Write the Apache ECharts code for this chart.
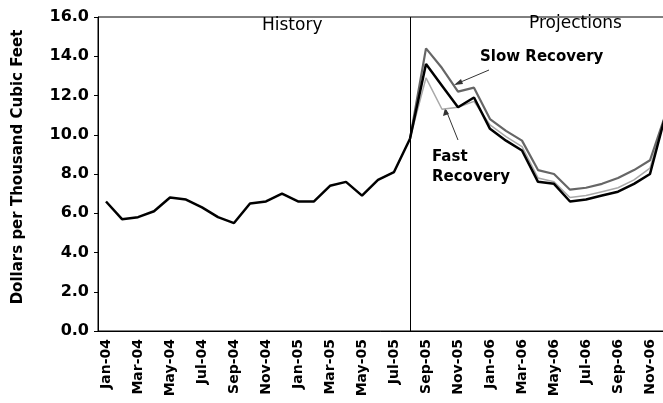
<!DOCTYPE html>
<html>
<head>
<meta charset="utf-8">
<script src="https://cdn.jsdelivr.net/npm/echarts@6/dist/echarts.min.js"></script>
<style>
  html, body { margin: 0; padding: 0; background: #fff; }
  #chart { width: 663px; height: 403px; }
</style>
</head>
<body>
<div id="chart"></div>
<script>
// months Jan-04 .. Dec-06
const months = [
  "Jan-04","Feb-04","Mar-04","Apr-04","May-04","Jun-04","Jul-04","Aug-04","Sep-04","Oct-04","Nov-04","Dec-04",
  "Jan-05","Feb-05","Mar-05","Apr-05","May-05","Jun-05","Jul-05","Aug-05","Sep-05","Oct-05","Nov-05","Dec-05",
  "Jan-06","Feb-06","Mar-06","Apr-06","May-06","Jun-06","Jul-06","Aug-06","Sep-06","Oct-06","Nov-06","Dec-06"
];

// Jan-04 .. Aug-05
const history = [6.6, 5.7, 5.8, 6.1, 6.8, 6.7, 6.3, 5.8, 5.5, 6.5, 6.6, 7.0,
                 6.6, 6.6, 7.4, 7.6, 6.9, 7.7, 8.1, 9.8];

// Sep-05 .. Dec-06
const baseCase = [13.6, 12.5, 11.4, 11.9, 10.3, 9.7, 9.2, 7.6, 7.5, 6.6, 6.7, 6.9, 7.1, 7.5, 8.0, 11.1];
const slowRecovery = [14.4, 13.4, 12.2, 12.4, 10.8, 10.2, 9.7, 8.2, 8.0, 7.2, 7.3, 7.5, 7.8, 8.2, 8.7, 11.1];
const fastRecovery = [12.9, 11.3, 11.4, 11.7, 10.5, 9.9, 9.4, 7.8, 7.6, 6.8, 6.9, 7.1, 7.3, 7.7, 8.3, 11.1];

const yTicks = [0, 16, 2]; // min, max, interval

const lastHist = history.length - 1;
const histData = months.map((m, i) => i < history.length ? history[i] : null);
const projData = (arr) => months.map((m, i) => {
  if (i < lastHist) return null;
  if (i === lastHist) return history[lastHist];
  return arr[i - lastHist - 1];
});

const wide = "DejaVu Sans, Verdana, sans-serif";
const myChart = echarts.init(document.getElementById("chart"));

myChart.setOption({
  animation: false,
  grid: {
    left: 98, top: 17, width: 576, height: 314,
    show: true, borderColor: "#000", borderWidth: 1,
    outerBoundsMode: "none"
  },
  xAxis: {
    type: "category",
    data: months,
    boundaryGap: true,
    axisLine: { lineStyle: { color: "#000", width: 1 } },
    axisTick: { interval: 1, length: 4, lineStyle: { color: "#000" } },
    axisLabel: {
      interval: 1, rotate: 90, margin: 8,
      color: "#000", fontFamily: wide, fontWeight: "bold", fontSize: 14
    },
    splitLine: { show: false }
  },
  yAxis: {
    type: "value",
    min: yTicks[0], max: yTicks[1], interval: yTicks[2],
    name: "Dollars per Thousand Cubic Feet",
    nameLocation: "middle", nameRotate: 90, nameGap: 72,
    nameTextStyle: {
      color: "#000", fontFamily: wide, fontWeight: "bold", fontSize: 15,
      padding: [0, 0, 0, 14]
    },
    axisLine: { show: true, lineStyle: { color: "#000", width: 1 } },
    axisTick: { show: true, length: 4, lineStyle: { color: "#000" } },
    axisLabel: {
      margin: 9, color: "#000", fontFamily: wide, fontWeight: "bold", fontSize: 16,
      formatter: (v) => v.toFixed(1)
    },
    splitLine: { show: false }
  },
  series: [
    {
      name: "History", type: "line", data: histData, showSymbol: false, z: 5,
      lineStyle: { color: "#000", width: 2.5 },
      markLine: {
        silent: true, symbol: "none", label: { show: false },
        lineStyle: { color: "#000", width: 1, type: "solid" },
        data: [{ xAxis: "Aug-05" }]
      }
    },
    {
      name: "Fast Recovery", type: "line", data: projData(fastRecovery), showSymbol: false, z: 2,
      lineStyle: { color: "#a8a8a8", width: 1.5 }
    },
    {
      name: "Slow Recovery", type: "line", data: projData(slowRecovery), showSymbol: false, z: 3,
      lineStyle: { color: "#666", width: 2.2 }
    },
    {
      name: "Base Case", type: "line", data: projData(baseCase), showSymbol: false, z: 4,
      lineStyle: { color: "#000", width: 2.5 }
    }
  ],
  graphic: [
    { type: "text", left: 262, top: 17,
      style: { text: "History", fontFamily: wide, fontSize: 17, fill: "#000" } },
    { type: "text", left: 529, top: 15,
      style: { text: "Projections", fontFamily: wide, fontSize: 17, fill: "#000" } },
    { type: "text", left: 480, top: 50,
      style: { text: "Slow Recovery", fontFamily: wide, fontWeight: "bold", fontSize: 15, fill: "#000" } },
    { type: "text", left: 432, top: 147,
      style: { text: "Fast\nRecovery", fontFamily: wide, fontWeight: "bold", fontSize: 15, lineHeight: 20, fill: "#000" } },
    { type: "line", shape: { x1: 489, y1: 70, x2: 456, y2: 84 }, style: { stroke: "#333", lineWidth: 1 } },
    { type: "polygon", shape: { points: [[454, 85], [461, 79], [463, 84]] }, style: { fill: "#333" } },
    { type: "line", shape: { x1: 458, y1: 140, x2: 446, y2: 110 }, style: { stroke: "#333", lineWidth: 1 } },
    { type: "polygon", shape: { points: [[445, 108], [443, 116], [449, 114]] }, style: { fill: "#333" } }
  ]
});
</script>
</body>
</html>
